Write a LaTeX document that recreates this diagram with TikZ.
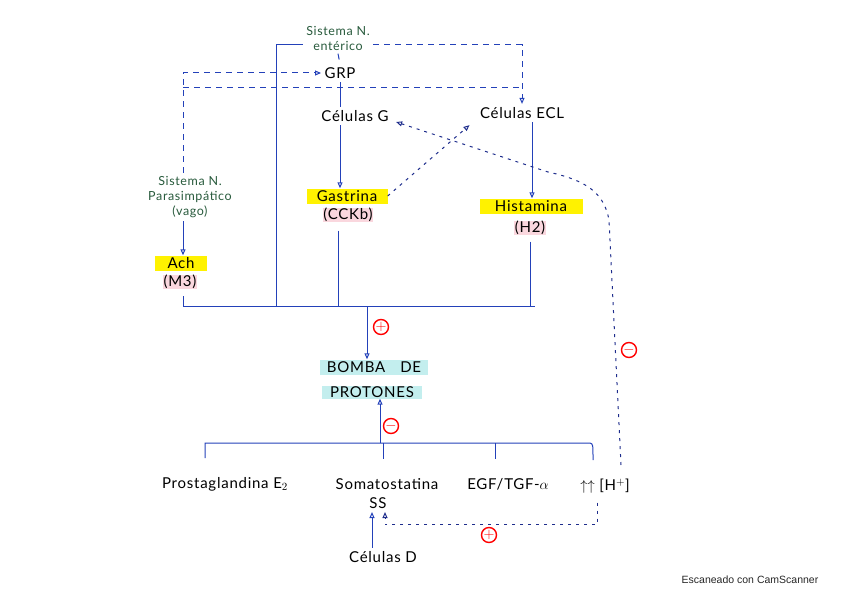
\documentclass[tikz,border=0pt]{standalone}
\usepackage{fontspec}
\setmainfont{Lato}[LetterSpace=5]
\newfontfamily\camfont{Liberation Sans}
\usetikzlibrary{arrows.meta}
\definecolor{pen}{RGB}{35,65,185}
\definecolor{ink}{RGB}{30,45,140}
\definecolor{verde}{RGB}{40,90,60}
\definecolor{amarillo}{RGB}{255,242,0}
\definecolor{rosa}{RGB}{250,215,222}
\definecolor{celeste}{RGB}{195,238,238}
\begin{document}
\begin{tikzpicture}[x=1pt,y=-1pt,>={Triangle[open,length=6pt,width=5pt]},
    txt/.style={font=\fontsize{15}{17}\selectfont},
    nervio/.style={font=\fontsize{12.5}{15}\selectfont,text=verde,align=center},
    pen/.style={draw=pen,line width=1pt},
    dsh/.style={draw=pen,line width=1pt,dash pattern=on 6pt off 5pt},
    dot/.style={draw=ink,line width=1pt,dash pattern=on 3pt off 5pt},
    sgn/.style={circle,draw=red,text=red,line width=1.4pt,inner sep=0pt,minimum size=15pt,font=\bfseries\fontsize{14}{14}\selectfont}]
    \useasboundingbox (0,0) rectangle (848,599);
    % textos
    \node[nervio] (ent) at (338,38) {Sistema N.\\entérico};
    \node[txt] (grp) at (340,73) {GRP};
    \node[txt] (celG) at (355,116) {Células G};
    \node[txt] (celECL) at (522,113) {Células ECL};
    \node[nervio] (vago) at (190,197) {Sistema N.\\Parasimpático\\(vago)};
    \node[txt,fill=amarillo,minimum width=52pt,minimum height=15pt,inner sep=0pt] (ach) at (181,263) {Ach};
    \node[txt,fill=rosa,inner sep=0.5pt] (m3) at (180,282) {(M3)};
    \node[txt,fill=amarillo,minimum width=81pt,minimum height=15pt,inner sep=0pt] (gas) at (347,196) {Gastrina};
    \node[txt,fill=rosa,inner sep=0.5pt] (cckb) at (348,215) {(CCKb)};
    \node[txt,fill=amarillo,minimum width=103pt,minimum height=15pt,inner sep=0pt] (his) at (531,206) {Histamina};
    \node[txt,fill=rosa,inner sep=0.5pt] (h2) at (530,228) {(H2)};
    \node[txt,fill=celeste,minimum width=108pt,minimum height=15pt,inner sep=0pt] (bomba) at (374,367) {BOMBA\quad DE};
    \node[txt,fill=celeste,minimum width=100pt,minimum height=13pt,inner sep=0pt] (prot) at (372,392) {PROTONES};
    \node[txt] (pge) at (225,484) {Prostaglandina E$_2$};
    \node[txt] (som) at (387,484) {Somatostatina};
    \node[txt] (ss) at (378,503) {SS};
    \node[txt] (egf) at (508,484) {EGF/TGF-$\alpha$};
    \node[txt] (hh) at (605,486) {$\uparrow\uparrow$ [H$^+$]};
    \node[txt] (celD) at (383,557) {Células D};
    \node[font=\camfont\fontsize{10.5}{12}\selectfont,text=black!85] (cam) at (750,580) {Escaneado con CamScanner};
    % signos
    \node[sgn] (mas1) at (381,327) {$+$};
    \node[sgn] (menos1) at (391,426) {$-$};
    \node[sgn] (menos2) at (629,350) {$-$};
    \node[sgn] (mas2) at (489,535) {$+$};
    % puntos de las barras
    \coordinate (e1) at (276,45);
    \coordinate (v1) at (183,73);
    \coordinate (v2) at (183,88);
    \coordinate (barL) at (183,306);
    \coordinate (barR) at (535,306);
    \coordinate (bar2) at (276,306);
    \coordinate (bar3) at (338,306);
    \coordinate (barC) at (367,306);
    \coordinate (lb1) at (205,443);
    \coordinate (lb2) at (590,443);
    \coordinate (lbC) at (380,443);
    \coordinate (r1) at (621,465);
    % flechas de arriba
    \draw[pen] (ent.west |- e1) -- (e1) -- (bar2);
    \draw[dsh,->] (ent.east |- e1) -| (celECL.north);
    \draw[dsh] (ent.south) -- (grp.north);
    \draw[pen] (grp.south) -- (grp.south |- celG.north);
    \draw[dsh,->] (vago.north -| v1) -- (v1) -- (grp.west);
    \draw[dsh] (v2) -- (v2 -| celECL.north);
    \draw[pen,->] (vago.south -| v1) -- (ach.north -| v1);
    \draw[pen,->] (celG.south -| grp.south) -- (gas.north -| grp.south);
    \draw[pen,->] (celECL.south) ++(10,0) -- ([xshift=10pt]his.north -| celECL.south);
    \draw[dot,->] (gas.east) -- ([xshift=-7pt,yshift=-3pt]celECL.south west);
    \draw[dot,->] (r1) -- (609,220) .. controls (604,192) and (585,180) .. (548,172) -- ([xshift=4pt,yshift=-6pt]celG.east);
    % barra de arriba
    \draw[pen] (barL) -- (barR);
    \draw[pen] (barL) -- ++(0,-10);
    \draw[pen] (cckb.south -| bar3) ++(0,8) -- (bar3);
    \draw[pen] (h2.south) ++(0,6) -- (h2.south |- barR);
    \draw[pen,->] (barC) -- (barC |- bomba.north);
    % barra de abajo
    \draw[pen] (lb1) ++(0,15) -- (lb1) -- (lb2) .. controls (593,444) .. (593,460);
    \draw[pen] (som.north -| 383,0) ++(0,-16) -- (383,443);
    \draw[pen] (egf.north -| 495,0) ++(0,-16) -- (495,443);
    \draw[pen,->] (lbC) -- (lbC |- prot.south);
    \draw[pen,->] ([xshift=-11pt]celD.north) -- ([xshift=-6pt]ss.south);
    \draw[dot,->] ([xshift=-8pt,yshift=-6pt]hh.south) -- ++(0,22) -| ([xshift=7pt]ss.south);
\end{tikzpicture}
\end{document}
